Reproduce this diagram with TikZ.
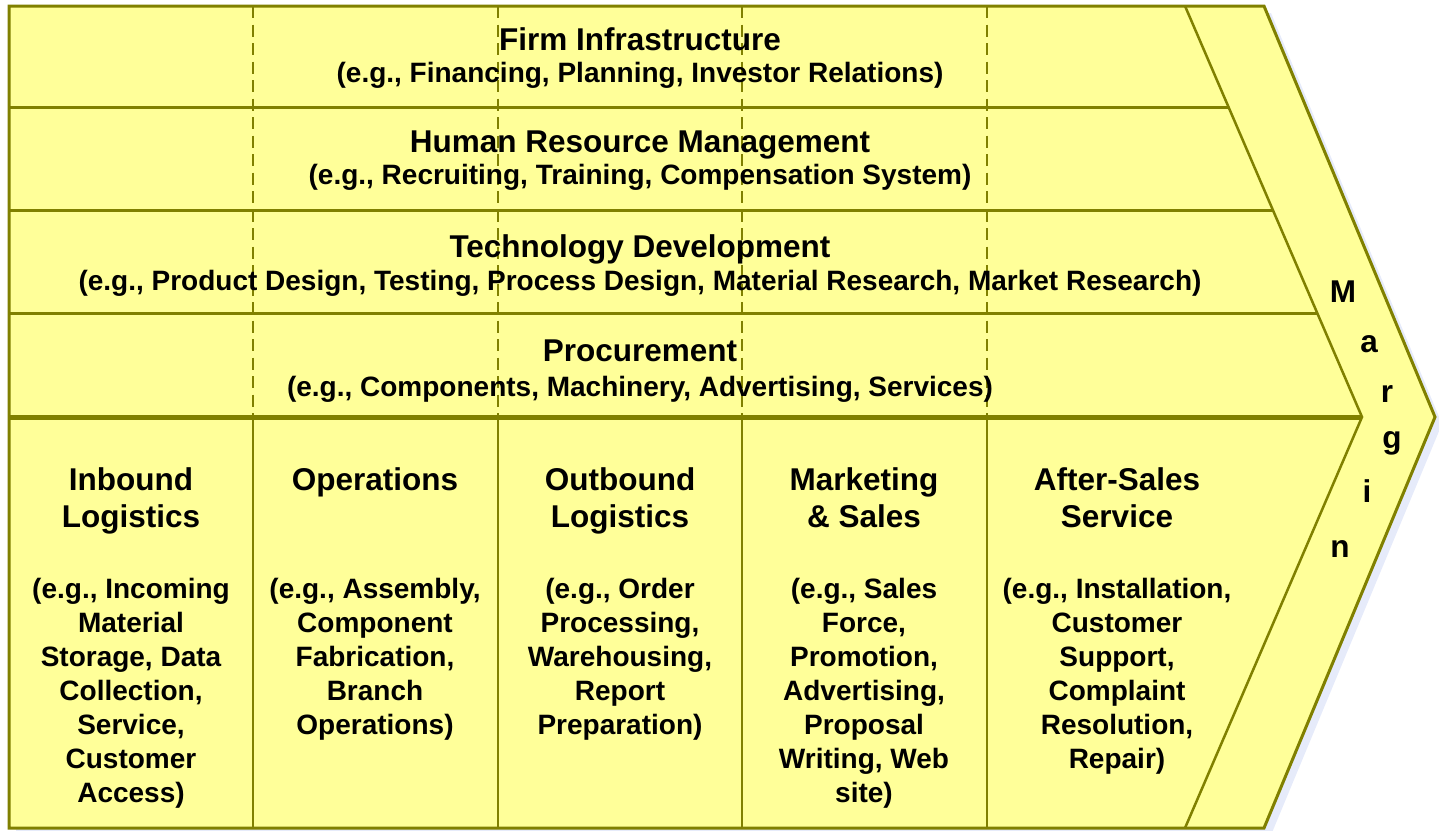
\documentclass[tikz,border=0pt]{standalone}
\usepackage{fontspec}
\setmainfont{Liberation Sans}
\usetikzlibrary{positioning}

\definecolor{chainfill}{HTML}{FFFF99}
\definecolor{chainline}{HTML}{808000}
\definecolor{chainshadow}{HTML}{E6EBFA}

\tikzset{
  headtext/.style={font=\fontsize{31.5}{37}\selectfont\bfseries, align=center, anchor=base, inner sep=0pt},
  egtext/.style={font=\fontsize{28}{34}\selectfont\bfseries, align=center, anchor=base, inner sep=0pt},
  rowline/.style={chainline, line width=3pt},
  colline/.style={chainline, line width=2.5pt},
  gridline/.style={chainline, line width=2.5pt, dash pattern=on 12pt off 6.5pt},
}

\begin{document}
\begin{tikzpicture}[x=1pt, y=-1pt]
\useasboundingbox (0,0) rectangle (1439,830);

% corners of the chain
\coordinate (nw) at (9,6);
\coordinate (ne) at (1264,6);
\coordinate (tip) at (1435,417);
\coordinate (se) at (1264,828);
\coordinate (sw) at (9,828);
\coordinate (itop) at (1185,6);
\coordinate (itip) at (1362,417);
\coordinate (ibot) at (1185,828);

% shadow, then body
\fill[chainshadow] (16,13) -- (1271,13) -- (1442,424) -- (1271,835) -- (16,835) -- cycle;
\fill[chainfill] (nw) -- (ne) -- (tip) -- (se) -- (sw) -- cycle;

% support activity grid
\foreach \gx in {253,498,742,987}
  \draw[gridline] (\gx,6) -- (\gx,417);
\draw[rowline] (9,107) -- (1228.5,107);
\draw[rowline] (9,210) -- (1272.9,210);
\draw[rowline] (9,313) -- (1317.2,313);
\draw[chainline, line width=5pt] (9,417) -- (itip);

% primary activity columns
\foreach \gx in {253,498,742,987}
  \draw[colline] (\gx,417) -- (\gx,828);

% margin chevron
\draw[colline] (itop) -- (itip) -- (ibot);
\draw[chainline, line width=3pt, line join=miter] (nw) -- (ne) -- (tip) -- (se) -- (sw) -- cycle;

% support activities
\node[headtext] (firm) at (640,50) {Firm Infrastructure};
\node[egtext] (firmeg) at (640,82) {(e.g., Financing, Planning, Investor Relations)};
\node[headtext] (hrm) at (640,152) {Human Resource Management};
\node[egtext] (hrmeg) at (640,184) {(e.g., Recruiting, Training, Compensation System)};
\node[headtext] (tech) at (640,257) {Technology Development};
\node[egtext] (techeg) at (640,290) {(e.g., Product Design, Testing, Process Design, Material Research, Market Research)};
\node[headtext] (proc) at (640,361) {Procurement};
\node[egtext] (proceg) at (640,396) {(e.g., Components, Machinery, Advertising, Services)};

% primary activities (base = last line)
\node[headtext] (inbound) at (131,527) {Inbound\\Logistics};
\node[egtext] (inboundeg) at (131,802) {(e.g., Incoming\\Material\\Storage, Data\\Collection,\\Service,\\Customer\\Access)};
\node[headtext] (ops) at (375,490) {Operations};
\node[egtext] (opseg) at (375,734) {(e.g., Assembly,\\Component\\Fabrication,\\Branch\\Operations)};
\node[headtext] (outbound) at (620,527) {Outbound\\Logistics};
\node[egtext] (outboundeg) at (620,734) {(e.g., Order\\Processing,\\Warehousing,\\Report\\Preparation)};
\node[headtext] (marketing) at (864,527) {Marketing\\\& Sales};
\node[egtext] (marketingeg) at (864,802) {(e.g., Sales\\Force,\\Promotion,\\Advertising,\\Proposal\\Writing, Web\\site)};
\node[headtext] (service) at (1117,527) {After-Sales\\Service};
\node[egtext] (serviceeg) at (1117,768) {(e.g., Installation,\\Customer\\Support,\\Complaint\\Resolution,\\Repair)};

% margin letters
\foreach \ch/\px/\py [count=\i] in {M/1343/302, a/1369/352, r/1387/402, g/1392/448, i/1367/502, n/1340/557}
  \node[headtext] (margin\i) at (\px,\py) {\ch};
\end{tikzpicture}
\end{document}
